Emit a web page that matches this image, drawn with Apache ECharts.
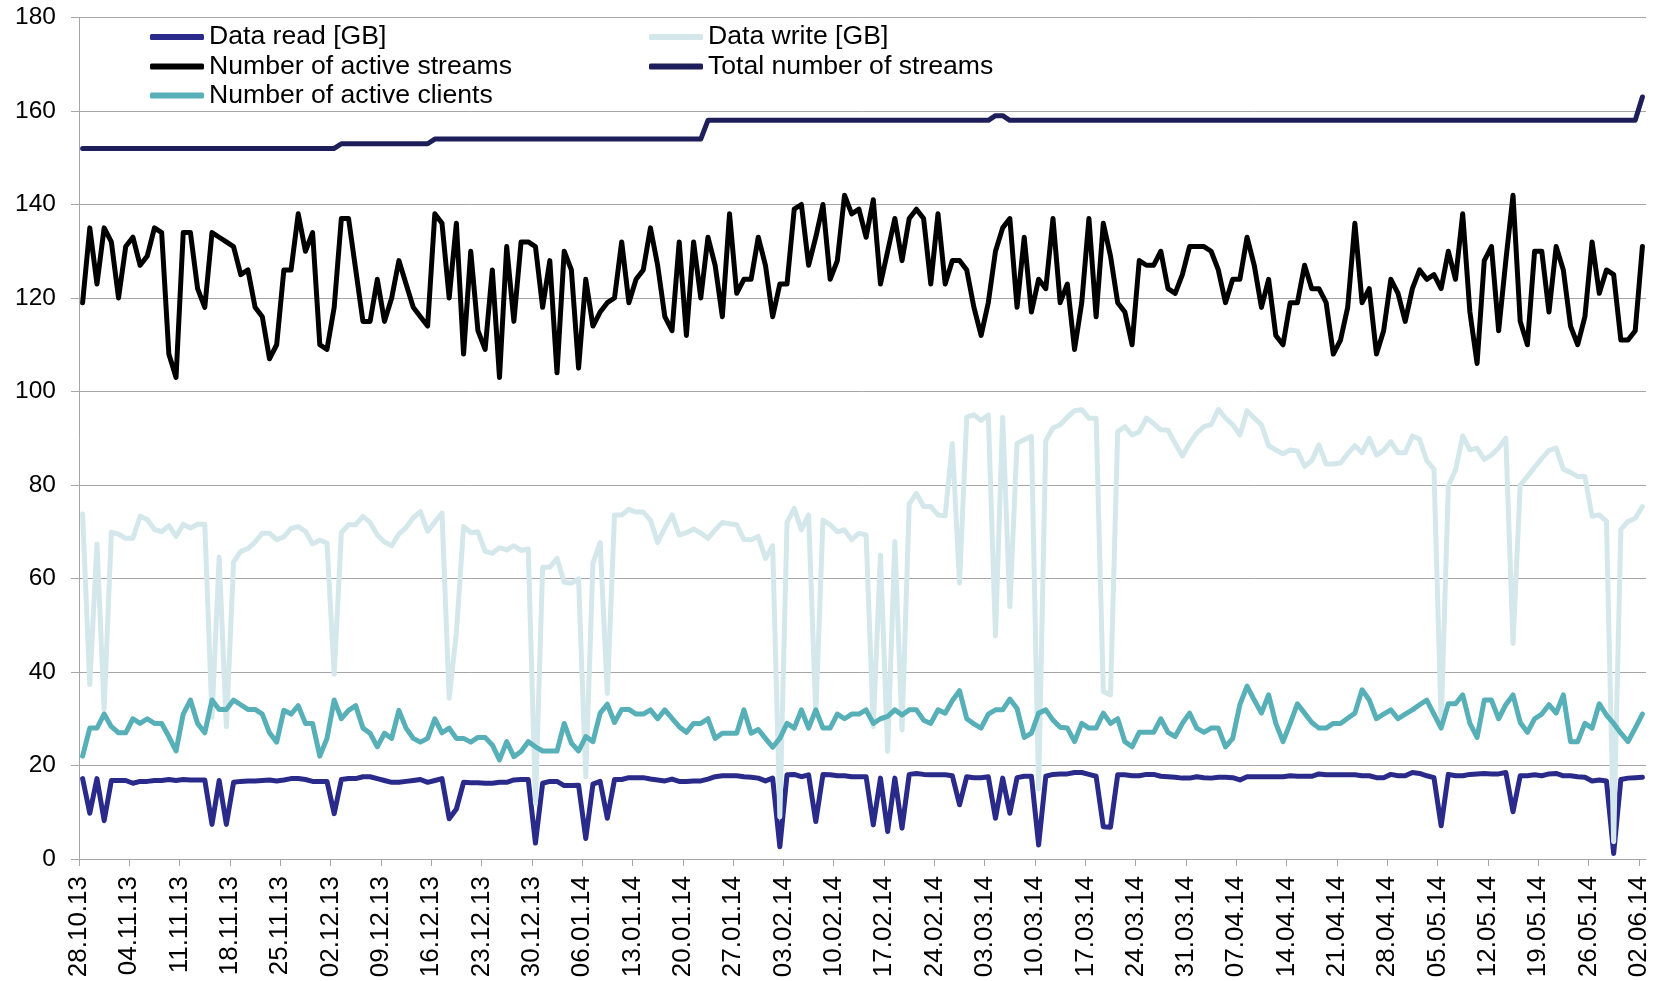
<!DOCTYPE html>
<html>
<head>
<meta charset="utf-8">
<script src="https://cdn.jsdelivr.net/npm/echarts@6/dist/echarts.min.js"></script>
<style>
html,body{margin:0;padding:0;background:#fff;}
#chart{width:1663px;height:981px;}
</style>
</head>
<body>
<div id="chart"></div>
<script>
// Weekly tick labels (every 7th day, starting 28.10.13)
const tickLabels = ['28.10.13','04.11.13','11.11.13','18.11.13','25.11.13','02.12.13','09.12.13','16.12.13','23.12.13','30.12.13','06.01.14','13.01.14','20.01.14','27.01.14','03.02.14','10.02.14','17.02.14','24.02.14','03.03.14','10.03.14','17.03.14','24.03.14','31.03.14','07.04.14','14.04.14','21.04.14','28.04.14','05.05.14','12.05.14','19.05.14','26.05.14','02.06.14'];

// Daily values, 28.10.13 .. 02.06.14 (218 days)
const dataRead = [
17.2,9.8,17.2,8.2,16.8,16.8,16.8,16.2,16.6,16.6,
16.8,16.8,17,16.8,17,16.9,16.9,16.9,7.4,16.8,
7.4,16.4,16.6,16.7,16.7,16.8,16.9,16.7,16.9,17.2,
17.2,17,16.6,16.6,16.6,9.7,17,17.2,17.2,17.6,
17.6,17.2,16.8,16.4,16.4,16.6,16.8,17,16.4,16.8,
17.2,8.6,10.7,16.4,16.3,16.3,16.2,16.2,16.4,16.4,
16.9,17,17,3.4,16.2,16.6,16.6,15.7,15.7,15.8,
4.4,16,16.6,8.7,17,17,17.4,17.4,17.4,17.1,
16.9,16.7,17.1,16.6,16.6,16.7,16.7,17.1,17.6,17.8,
17.8,17.8,17.6,17.5,17.3,16.7,17.3,2.6,18,18.1,
17.6,18,8,18.1,18,17.8,17.8,17.6,17.6,17.6,
7.3,17.3,5.9,17.3,6.6,18.1,18.3,18.1,18,18,
18,17.8,11.6,17.6,17.4,17.4,17.6,8.7,17.3,9.8,
17.4,17.7,17.7,3,17.7,18.1,18.2,18.2,18.5,18.5,
18.1,17.7,6.9,6.8,18,18,17.8,17.8,18.1,18.1,
17.7,17.6,17.5,17.3,17.3,17.6,17.4,17.3,17.5,17.5,
17.4,16.9,17.6,17.6,17.6,17.6,17.6,17.6,17.8,17.7,
17.7,17.7,18.2,18,18,18,18,18,17.8,17.8,
17.4,17.4,18.1,17.8,17.8,18.5,18.3,17.8,17.4,7.1,
18.1,17.8,17.8,18.1,18.2,18.3,18.2,18.2,18.5,10.1,
17.8,17.8,18,17.8,18.2,18.3,17.8,17.8,17.6,17.5,
16.7,16.9,16.7,1.2,17,17.3,17.4,17.5
];
const dataWrite = [
73.8,37.3,67.4,32,69.9,69.5,68.6,68.6,73.3,72.6,
70.5,70,71.3,69,71.6,70.8,71.6,71.6,30.3,64.6,
28.3,63.5,65.8,66.4,67.8,69.7,69.7,68.3,68.9,70.7,
71.1,70.1,67.4,68.2,67.6,39.5,69.8,71.5,71.5,73.3,
72,69.3,67.8,67,69.5,70.9,73,74.3,70.1,72.1,
74,34.4,48.4,71.1,69.8,70,65.8,65.4,66.6,66.1,
67,66,66.3,12,62.4,62.4,64.3,59.2,59,59.9,
17.6,63.3,67.7,35.4,73.6,73.6,74.8,74.2,74.2,72.5,
67.7,70.8,73.6,69.3,69.8,70.6,69.7,68.6,70.4,72,
71.7,71.5,68.3,68.3,69,64.3,67,9,72,75,
70.4,73.6,31,72.5,71.5,70,70.4,68.3,69.7,69.3,
28.3,65,23,67.9,27.6,76,78.2,75.4,75.4,73.6,
73.4,88.9,59,94.5,95,93.8,95,47.7,94.5,54,
88.9,89.7,90.4,15,89.5,92.2,92.9,94.5,95.9,96.1,
94.3,94.3,35.8,35.1,91.4,92.5,90.7,91.4,94.3,93.2,
91.8,91.7,88.9,86.2,88.9,91.1,92.5,92.9,96.2,94.3,
92.9,90.7,95.9,94.3,92.9,88.4,87.5,86.7,87.5,87.3,
84,85.2,88.6,84.5,84.5,84.7,86.7,88.4,86.9,90,
86.4,87.4,89.3,86.9,86.9,90.5,89.8,85.2,83.4,29,
79.8,83.2,90.5,87.5,87.9,85.5,86.4,87.9,90,46.1,
80,81.8,83.8,85.7,87.4,87.9,83.4,82.7,81.8,81.8,
73.3,73.6,72.2,3.7,70.5,72.2,72.9,75.4
];
const activeStreams = [
119,135,123,135,132,120,131,133,127,129,
135,134,108,103,134,134,122,118,134,133,
132,131,125,126,118,116,107,110,126,126,
138,130,134,110,109,118,137,137,126,115,
115,124,115,120,128,123,118,116,114,138,
136,120,136,108,130,113,109,126,103,131,
115,132,132,131,118,128,104,130,126,105,
124,114,117,119,120,132,119,124,126,135,
127,116,113,132,112,132,120,133,127,116,
138,121,124,124,133,127,116,123,123,139,
140,127,133,140,124,128,142,138,139,133,
141,123,130,137,128,137,139,137,123,138,
123,128,128,126,118,112,119,130,135,137,
118,133,117,124,122,137,119,123,109,119,
137,116,136,129,119,117,110,128,127,127,
130,122,121,125,131,131,131,130,126,119,
124,124,133,127,118,124,112,110,119,119,
127,122,122,119,108,111,118,136,119,122,
108,113,124,121,115,122,126,124,125,122,
130,124,138,117,106,128,131,113,128,142,
115,110,130,130,117,131,126,114,110,116,
132,121,126,125,111,111,113,131
];
const totalStreams = [
152,152,152,152,152,152,152,152,152,152,
152,152,152,152,152,152,152,152,152,152,
152,152,152,152,152,152,152,152,152,152,
152,152,152,152,152,152,153,153,153,153,
153,153,153,153,153,153,153,153,153,154,
154,154,154,154,154,154,154,154,154,154,
154,154,154,154,154,154,154,154,154,154,
154,154,154,154,154,154,154,154,154,154,
154,154,154,154,154,154,154,158,158,158,
158,158,158,158,158,158,158,158,158,158,
158,158,158,158,158,158,158,158,158,158,
158,158,158,158,158,158,158,158,158,158,
158,158,158,158,158,158,158,159,159,158,
158,158,158,158,158,158,158,158,158,158,
158,158,158,158,158,158,158,158,158,158,
158,158,158,158,158,158,158,158,158,158,
158,158,158,158,158,158,158,158,158,158,
158,158,158,158,158,158,158,158,158,158,
158,158,158,158,158,158,158,158,158,158,
158,158,158,158,158,158,158,158,158,158,
158,158,158,158,158,158,158,158,158,158,
158,158,158,158,158,158,158,163
];
const activeClients = [
22,28,28,31,28.3,27,27,30,29,30,
29,29,26.2,23.1,31,34,29,27,34,32,
32,34,33,32,32,31,27,25,31.8,31,
32.8,29,29,22,25.8,34,30,31.8,32.8,28,
26.9,24,26.9,25.8,31.8,28,25.8,25,25.8,30,
27,28,25.8,25.8,25,26,26,24.4,21.2,25.1,
21.9,23,25.1,24,23.1,23.1,23.1,29,24.8,23.1,
26.2,25.1,31.2,33.1,29.2,32,32,31,31,31.9,
30,31.9,30.1,28.3,27.1,29,29,30,25.8,26.9,
26.9,26.9,31.9,26.9,27.7,25.8,23.9,25.8,29,28,
31.9,28,31.9,28,28,31,30,31,31,31.9,
29,30,30.5,31.9,30.8,31.9,31.9,29.7,29,31.9,
31.2,33.9,36,30,28.9,28,31,31.9,31.9,34.2,
32.2,26,26.9,31.2,31.9,29.7,28.2,28,25.1,29,
28,28,31.2,29,30,25.1,24,27.1,27.1,27.1,
30,27.1,26.2,29,31.2,28,27.1,28,28,24,
25.8,33,37,34,31.2,35.1,29,25.1,29,33.2,
31.2,29.2,28,28,29,29,30.1,31.2,36.2,34,
30,31,31.9,30,31,31.9,33,34,31,28,
33.2,33.2,35.1,29,26,34,34,30,33,35.1,
29.2,27.1,30,31,33,31.2,35.1,25.1,25.1,29,
28,33.2,30.8,29,26.9,25.1,28,31
];

const seriesNames = ['Data read [GB]','Data write [GB]','Number of active streams','Total number of streams','Number of active clients'];
const seriesColors = ['#2A2A8A','#D4E8EB','#000000','#1E1F5A','#57AFB7'];
const seriesValues = [dataRead, dataWrite, activeStreams, totalStreams, activeClients];

const FONT = '"Liberation Sans", Arial, sans-serif';
const GRID_COLOR = '#A6A6A6';
const dayCount = dataRead.length;
const tickPositions = tickLabels.map((_, k) => k * 7);

const chart = echarts.init(document.getElementById('chart'), null, {renderer: 'canvas'});

function legendAt(name, left, top) {
  return {
    data: [name], left: left, top: top, padding: 0, itemGap: 0,
    itemWidth: 54, itemHeight: 6, icon: 'roundRect',
    textStyle: {fontSize: 26.6, color: '#000', fontFamily: FONT, lineHeight: 30},
    selectedMode: false
  };
}

const option = {
  animation: false,
  backgroundColor: '#fff',
  grid: {left: 79, right: 17, top: 17.5, bottom: 122, containLabel: false},
  legend: [
    legendAt('Data read [GB]', 150, 22),
    legendAt('Number of active streams', 150, 51.5),
    legendAt('Number of active clients', 150, 80.5),
    legendAt('Data write [GB]', 649, 22),
    legendAt('Total number of streams', 649, 51.5)
  ],
  xAxis: {
    type: 'value', min: 0, max: dayCount, interval: 7,
    axisLine: {show: true, lineStyle: {color: GRID_COLOR, width: 1}},
    axisTick: {show: true, length: 7, customValues: tickPositions, lineStyle: {color: GRID_COLOR, width: 1}},
    axisLabel: {
      customValues: tickPositions, rotate: 90, margin: 17,
      fontSize: 26, color: '#000', fontFamily: FONT,
      formatter: v => { const k = Math.round(v / 7); return (v % 7 === 0 && tickLabels[k]) ? tickLabels[k] : ''; }
    },
    splitLine: {show: false}
  },
  yAxis: {
    type: 'value', min: 0, max: 180, interval: 20,
    axisLine: {show: true, lineStyle: {color: GRID_COLOR, width: 1}},
    axisTick: {show: true, length: 8, lineStyle: {color: GRID_COLOR, width: 1}},
    axisLabel: {fontSize: 24.5, color: '#000', fontFamily: FONT, margin: 23},
    splitLine: {show: true, lineStyle: {color: GRID_COLOR, width: 1}}
  },
  series: seriesNames.map((name, s) => ({
    name: name, type: 'line', symbol: 'none', showSymbol: false, smooth: false,
    color: seriesColors[s],
    lineStyle: {width: 5, color: seriesColors[s], cap: 'round', join: 'round'},
    itemStyle: {color: seriesColors[s]},
    emphasis: {disabled: true},
    data: seriesValues[s].map((v, i) => [i + 0.5, v])
  }))
};
chart.setOption(option);
</script>
</body>
</html>
